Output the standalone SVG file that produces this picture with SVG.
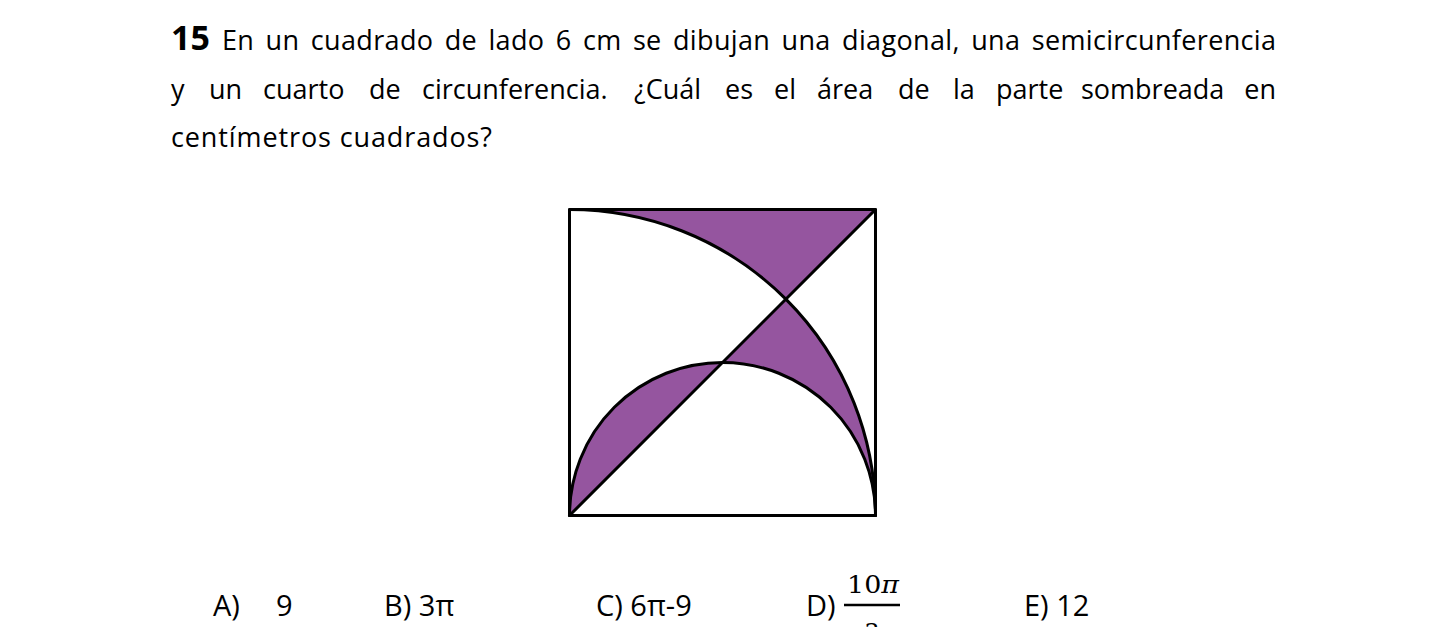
<svg xmlns="http://www.w3.org/2000/svg" width="1446" height="627" viewBox="0 0 1446 627">
<style>
.t{font-family:"Open Sans","Liberation Sans",sans-serif;font-size:27px;fill:#000}
.a{font-family:"Open Sans","Liberation Sans",sans-serif;font-size:29px;fill:#000}
.m{font-family:"DejaVu Serif","Liberation Serif",serif;font-size:24px;fill:#000}
.sh{fill:#95559F;stroke:none}
.ln{fill:none;stroke:#000;stroke-width:3;stroke-linejoin:round;stroke-linecap:round}
</style>
<rect width="1446" height="627" fill="#fff"/>
<g id="question">
<text x="171" y="50" font-family="'Open Sans','Liberation Sans',sans-serif" font-size="34" font-weight="bold">15</text>
<text class="t" x="222" y="50" word-spacing="4" textLength="1054" lengthAdjust="spacing">En un cuadrado de lado 6 cm se dibujan una diagonal, una semicircunferencia</text>
<text class="t" y="99"><tspan x="171">y</tspan><tspan x="209">un</tspan><tspan x="263">cuarto</tspan><tspan x="369">de</tspan><tspan x="422">circunferencia.</tspan><tspan x="634">¿Cuál</tspan><tspan x="725">es</tspan><tspan x="774">el</tspan><tspan x="817">área</tspan><tspan x="898">de</tspan><tspan x="953">la</tspan><tspan x="996">parte</tspan><tspan x="1081">sombreada</tspan></text>
<text class="t" x="1276" y="99" text-anchor="end">en</text>
<text class="t" x="171" y="147" textLength="321" lengthAdjust="spacing">centímetros cuadrados?</text>
</g>
<g id="figure">
<g id="shaded">
<path class="sh" d="M569.5,209.5 L875.5,209.5 L785.87,299.13 A306,306 0 0 0 569.5,209.5 Z"/>
<path class="sh" d="M785.87,299.13 A306,306 0 0 1 875.5,515.5 A153,153 0 0 0 722.5,362.5 Z"/>
<path class="sh" d="M569.5,515.5 A153,153 0 0 1 722.5,362.5 Z"/>
</g>
<g id="lines">
<rect class="ln" x="569.5" y="209.5" width="306" height="306"/>
<path class="ln" d="M569.5,209.5 A306,306 0 0 1 875.5,515.5"/>
<path class="ln" d="M569.5,515.5 A153,153 0 0 1 875.5,515.5"/>
<path class="ln" d="M569.5,515.5 L875.5,209.5"/>
</g>
</g>
<g id="answers">
<text class="a" x="213" y="616">A)</text>
<text class="a" x="276" y="616">9</text>
<text class="a" x="384" y="616">B) 3π</text>
<text class="a" x="596" y="616">C) 6π-9</text>
<text class="a" x="806" y="616">D)</text>
<text class="m" x="847" y="593" textLength="52" lengthAdjust="spacingAndGlyphs">10<tspan font-style="italic">π</tspan></text>
<line x1="844" y1="605" x2="900" y2="605" stroke="#000" stroke-width="2.5"/>
<text class="m" x="872" y="641" text-anchor="middle">3</text>
<text class="a" x="1024" y="616">E) 12</text>
</g>
</svg>
